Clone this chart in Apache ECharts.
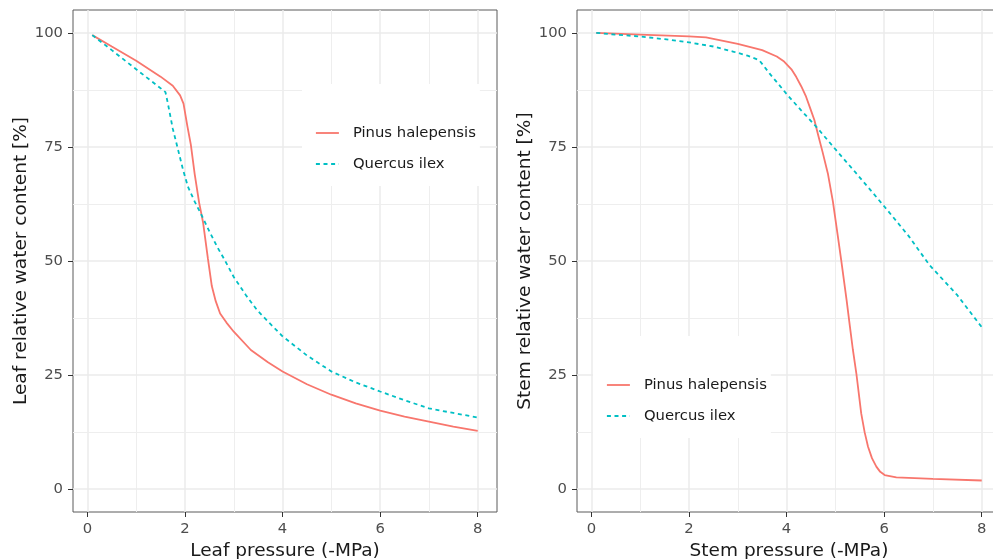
<!DOCTYPE html>
<html>
<head>
<meta charset="utf-8">
<script src="https://cdn.jsdelivr.net/npm/echarts@6/dist/echarts.min.js"></script>
<style>
html,body{margin:0;padding:0;background:#fff;}
#chart{width:993px;height:559px;}
</style>
</head>
<body>
<div id="chart"></div>
<script>
// ---- data ----
const seriesNames = ['Pinus halepensis', 'Quercus ilex'];
const xTicks = [0, 2, 4, 6, 8];
const xMinor = [1, 3, 5, 7];
const yTicks = [0, 25, 50, 75, 100];
const yMinor = [12.5, 37.5, 62.5, 87.5];
const panelXTitles = ['Leaf pressure (-MPa)', 'Stem pressure (-MPa)'];
const panelYTitles = ['Leaf relative water content [%]', 'Stem relative water content [%]'];

const leafPinus = [[0.1,99.5],[0.5,97.0],[1.0,93.9],[1.5,90.4],[1.75,88.4],[1.9,86.3],[1.97,84.5],[2.05,79.5],[2.12,75.5],[2.2,69],[2.29,62.8],[2.37,58.5],[2.47,50.5],[2.55,44.5],[2.63,41.2],[2.72,38.5],[2.85,36.5],[3.0,34.5],[3.35,30.5],[3.7,27.8],[4.0,25.8],[4.5,23.0],[5.0,20.7],[5.5,18.8],[6.0,17.2],[6.5,15.9],[7.0,14.8],[7.5,13.7],[8.0,12.8]];
const leafQuercus = [[0.1,99.5],[0.5,96.2],[1.0,92.0],[1.4,88.7],[1.6,87.0],[1.65,84.5],[1.75,79],[1.86,74.3],[1.96,70],[2.06,66.3],[2.2,63],[2.32,60.5],[2.5,56.5],[2.66,53.1],[2.8,50.5],[3.0,46.5],[3.25,42.5],[3.48,39.2],[3.75,36.2],[4.0,33.5],[4.5,29.3],[5.0,25.8],[5.5,23.4],[6.0,21.4],[6.5,19.5],[7.0,17.7],[7.5,16.7],[8.0,15.7]];
const stemPinus = [[0.1,100],[1.0,99.6],[2.0,99.2],[2.35,99.0],[3.0,97.6],[3.5,96.2],[3.8,94.8],[3.95,93.7],[4.1,92],[4.2,90.3],[4.3,88.3],[4.4,86],[4.5,83],[4.57,80.9],[4.65,77.5],[4.74,73.8],[4.85,69],[4.95,63],[5.05,55.5],[5.12,50.2],[5.23,41.5],[5.3,35.5],[5.36,30.5],[5.43,25.4],[5.53,16.6],[5.6,12.5],[5.67,9.3],[5.75,6.8],[5.84,4.95],[5.92,3.8],[6.01,3.1],[6.25,2.6],[7.0,2.25],[8.0,1.9]];
const stemQuercus = [[0.1,100],[0.5,99.6],[1.0,99.2],[1.5,98.6],[2.0,97.9],[2.5,97.0],[2.9,95.9],[3.2,95.0],[3.44,94.0],[3.55,92.5],[3.65,91.1],[3.8,89.2],[4.0,86.6],[4.3,83],[4.61,79.4],[5.0,74.5],[5.43,69.2],[6.0,62.0],[6.5,55.5],[6.93,49.1],[7.5,42.5],[8.0,35.5]];

// ---- styling ----
const FONT = 'DejaVu Sans';
const RED = '#F8766D', TEAL = '#00BFC4';
const chart = echarts.init(document.getElementById('chart'), null, {renderer: 'canvas'});

const grids = [
  {left: 73, top: 10, width: 424, height: 502},
  {left: 577, top: 10, width: 424, height: 502}
];

function xAxis(i) {
  return {
    type: 'value', gridIndex: i, min: -0.295, max: 8.395, position: 'bottom',
    name: panelXTitles[i], nameLocation: 'middle', nameGap: 28,
    nameTextStyle: {fontFamily: FONT, fontSize: 18.5, color: '#1a1a1a'},
    axisLine: {show: false, onZero: false},
    axisTick: {show: true, customValues: xTicks, length: 5, lineStyle: {color: '#333', width: 1}},
    axisLabel: {customValues: xTicks, margin: 9.5, fontFamily: FONT, fontSize: 14.8, color: '#4d4d4d'},
    splitLine: {show: false}
  };
}
function yAxis(i) {
  return {
    type: 'value', gridIndex: i, min: -5, max: 105, position: 'left',
    name: panelYTitles[i], nameLocation: 'middle', nameGap: 42, nameRotate: 90,
    nameTextStyle: {fontFamily: FONT, fontSize: 18.5, color: '#1a1a1a'},
    axisLine: {show: false, onZero: false},
    axisTick: {show: true, customValues: yTicks, length: 5, lineStyle: {color: '#333', width: 1}},
    axisLabel: {customValues: yTicks, margin: 10, fontFamily: FONT, fontSize: 14.8, color: '#4d4d4d'},
    splitLine: {show: false}
  };
}

function gridLineSeries(i) {
  const d = [];
  xTicks.forEach(v => d.push({xAxis: v, lineStyle: {color: '#EBEBEB', width: 1.5, type: 'solid'}}));
  xMinor.forEach(v => d.push({xAxis: v, lineStyle: {color: '#EEEEEE', width: 1, type: 'solid'}}));
  yTicks.forEach(v => d.push({yAxis: v, lineStyle: {color: '#EBEBEB', width: 1.5, type: 'solid'}}));
  yMinor.forEach(v => d.push({yAxis: v, lineStyle: {color: '#EEEEEE', width: 1, type: 'solid'}}));
  return {
    type: 'line', name: 'grid' + i, xAxisIndex: i, yAxisIndex: i, z: 0,
    data: [[0, 0]], symbol: 'none', lineStyle: {opacity: 0}, silent: true,
    markLine: {silent: true, symbol: ['none', 'none'], label: {show: false}, animation: false, data: d, z: 0}
  };
}

function dataSeries(name, data, i, color, dashed) {
  return {
    type: 'line', name: name, xAxisIndex: i, yAxisIndex: i, z: 3,
    data: data, symbol: 'none', smooth: false,
    lineStyle: {color: color, width: 1.8, type: dashed ? [4, 3.6] : 'solid'},
    itemStyle: {color: color}
  };
}

function legend(left, top) {
  return {
    data: seriesNames, orient: 'vertical', left: left, top: top,
    backgroundColor: '#ffffff', padding: [41, 4, 14, 13],
    itemWidth: 23, itemHeight: 16, itemGap: 15,
    selectedMode: false,
    itemStyle: {opacity: 0, color: 'rgba(0,0,0,0)', borderWidth: 0},
    lineStyle: {width: 1.8},
    textStyle: {fontFamily: FONT, fontSize: 14.8, color: '#1a1a1a', lineHeight: 16, padding: [0, 0, 0, 9]},
    z: 10
  };
}

chart.setOption({
  animation: false,
  backgroundColor: '#ffffff',
  grid: grids.map(g => Object.assign({show: true, borderColor: '#5a5a5a', borderWidth: 1, backgroundColor: '#fff', containLabel: false, outerBoundsMode: 'none'}, g)),
  xAxis: [xAxis(0), xAxis(1)],
  yAxis: [yAxis(0), yAxis(1)],
  legend: [legend(302, 84), legend(593, 336)],
  series: [
    gridLineSeries(0), gridLineSeries(1),
    dataSeries(seriesNames[0], leafPinus, 0, RED, false),
    dataSeries(seriesNames[1], leafQuercus, 0, TEAL, true),
    dataSeries(seriesNames[0], stemPinus, 1, RED, false),
    dataSeries(seriesNames[1], stemQuercus, 1, TEAL, true)
  ]
});
</script>
</body>
</html>
